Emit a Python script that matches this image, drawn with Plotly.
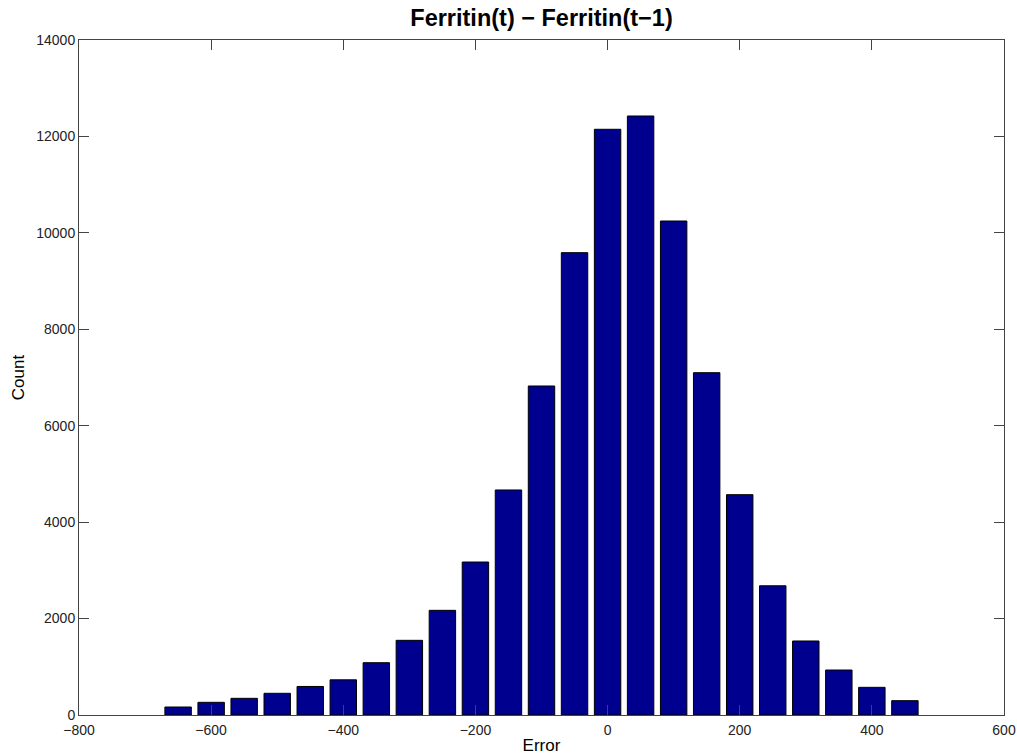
import plotly.graph_objects as go

bin_centers = [-650, -600, -550, -500, -450, -400, -350, -300, -250, -200, -150, -100,
               -50, 0, 50, 100, 150, 200, 250, 300, 350, 400, 450]
counts = [166, 263, 346, 450, 592, 730, 1085, 1549, 2171, 3173, 4667, 6824,
          9589, 12148, 12424, 10246, 7100, 4570, 2680, 1535, 933, 574, 297]
x_ticks = [-800, -600, -400, -200, 0, 200, 400, 600]
y_ticks = [0, 2000, 4000, 6000, 8000, 10000, 12000, 14000]

FONT = "Liberation Sans, Arial"

fig = go.Figure()
fig.add_trace(go.Bar(
    x=bin_centers, y=counts, width=40,
    marker=dict(color="#00008f", line=dict(color="black", width=1)),
))

axis_common = dict(
    showgrid=False, zeroline=False, showline=True, linecolor="#444444", linewidth=1,
    mirror="ticks", ticks="inside", ticklen=10, tickcolor="#444444",
    automargin=False,
    tickfont=dict(family=FONT, size=14, color="#222222"),
)
fig.update_layout(
    width=1017, height=755,
    margin=dict(l=79, r=13, t=40, b=40),
    paper_bgcolor="white", plot_bgcolor="white",
    showlegend=False,
    title=dict(text="<b>Ferritin(t) − Ferritin(t−1)</b>", xref="paper", x=0.5, xanchor="center",
               yref="container", y=1 - 18 / 755, yanchor="middle",
               font=dict(family=FONT, size=23.5, color="black")),
    xaxis=dict(range=[-800, 600], tickvals=x_ticks,
               ticktext=[str(v).replace("-", "−") for v in x_ticks],
               ticklabelstandoff=2,
               title=dict(text="Error", standoff=4,
                          font=dict(family=FONT, size=17, color="black")),
               **axis_common),
    yaxis=dict(range=[0, 14000], tickvals=y_ticks, ticktext=[str(v) for v in y_ticks],
               title=dict(text="Count", standoff=7,
                          font=dict(family=FONT, size=17, color="black")),
               **axis_common),
)

fig.write_html("out.html",
               config={"displayModeBar": False},
               post_script="document.body.style.margin='0';document.body.style.overflow='hidden';")
